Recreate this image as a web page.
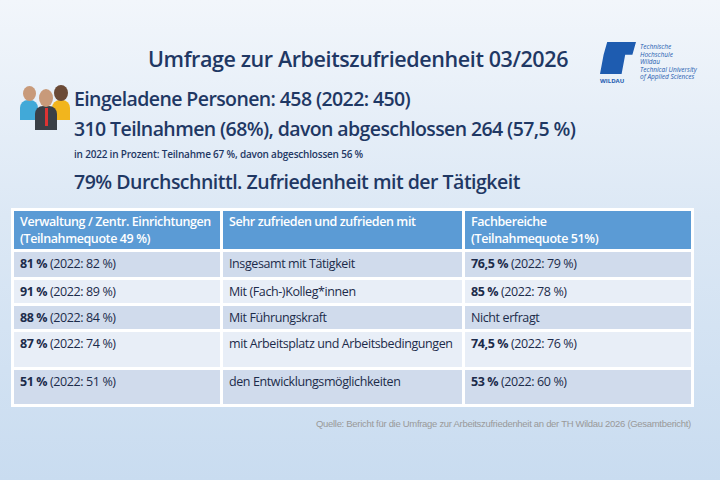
<!DOCTYPE html>
<html><head><meta charset="utf-8">
<script src="https://cdn.jsdelivr.net/npm/chart.js@4"></script>
<style>
body{margin:0;width:720px;height:480px;overflow:hidden;font-family:"Open Sans","Noto Sans",sans-serif;
 background:linear-gradient(#f2f6fb,#dce8f5 45%,#c9dcf0);color:#1f3864;position:relative}
.a{position:absolute;white-space:nowrap}
table{position:absolute;left:11px;top:208px;width:680px;border-collapse:collapse;font-size:12.5px;letter-spacing:-0.4px;table-layout:fixed}
td{border:3px solid #fff;padding:4px 6px 0;vertical-align:top;color:#1c2b4a;box-sizing:border-box;line-height:16px}
tr.h td{background:#5b9bd5;color:#fff;font-weight:600;line-height:17px;padding-top:2px}
tr.r0 td{background:#d0dbec} tr.r1 td{background:#e8eef7}
.src{font-family:"Liberation Sans",Arial;font-size:9.5px;color:#999;letter-spacing:-0.3px}
</style></head><body>
<div class="a" style="left:148px;top:44px;font-size:21.5px;font-weight:600;letter-spacing:-0.4px" id="title"></div>
<div class="a" style="left:74px;top:85px;font-size:19.5px;font-weight:600;letter-spacing:-0.6px" id="l1"></div>
<div class="a" style="left:74px;top:115px;font-size:19.5px;font-weight:600;letter-spacing:-0.6px" id="l2"></div>
<div class="a" style="left:74px;top:147px;font-size:10px;font-weight:600;letter-spacing:-0.2px" id="l3"></div>
<div class="a" style="left:74px;top:168px;font-size:19.5px;font-weight:600;letter-spacing:-0.5px" id="l4"></div>
<div class="a" style="left:20px;top:82px;width:50px;height:48px">
 <div class="a" style="left:0;top:18px;width:18px;height:20px;background:#41a9d8;border-radius:8px 8px 0 0"></div>
 <div class="a" style="left:3px;top:4px;width:13px;height:15px;background:#c89a7a;border-radius:50%"></div>
 <div class="a" style="left:32px;top:18px;width:18px;height:20px;background:#f2b51d;border-radius:8px 8px 0 0"></div>
 <div class="a" style="left:34px;top:3px;width:14px;height:16px;background:#6b4a36;border-radius:50%"></div>
 <div class="a" style="left:15px;top:24px;width:22px;height:24px;background:#3a3f46;border-radius:8px 8px 0 0"></div>
 <div class="a" style="left:25px;top:26px;width:3px;height:18px;background:#d33"></div>
 <div class="a" style="left:19px;top:7px;width:14px;height:18px;background:#c89a7a;border-radius:50%"></div>
</div>
<div class="a" style="left:600px;top:42px;width:36px;height:32px;background:#1e5cb0;clip-path:polygon(20% 0,100% 0,90% 40%,70% 40%,60% 100%,0 100%,10% 40%)"></div>
<div class="a" style="left:600px;top:77px;font-size:6px;font-weight:700;color:#1e5cb0">WILDAU</div>
<div class="a" style="left:640px;top:43px;font-size:6.5px;line-height:7.5px;color:#1e5cb0;font-style:italic">Technische<br>Hochschule<br>Wildau<br>Technical University<br>of Applied Sciences</div>
<table id="tbl"></table>
<div class="a src" style="right:29px;top:418px" id="src"></div>
<canvas id="c" width="1" height="1" style="position:absolute;left:0;top:0"></canvas>
<script>
const titleText = "Umfrage zur Arbeitszufriedenheit 03/2026";
const lines = ["Eingeladene Personen: 458 (2022: 450)",
 "310 Teilnahmen (68%), davon abgeschlossen 264 (57,5 %)",
 "in 2022 in Prozent: Teilnahme 67 %, davon  abgeschlossen 56 %",
 "79%  Durchschnittl. Zufriedenheit mit der Tätigkeit"];
const headers = ["Verwaltung / Zentr. Einrichtungen<br>(Teilnahmequote 49 %)", "Sehr zufrieden und zufrieden mit", "Fachbereiche<br>(Teilnahmequote 51%)"];
const categories = ["Insgesamt mit Tätigkeit", "Mit (Fach-)Kolleg*innen", "Mit Führungskraft", "mit Arbeitsplatz und Arbeitsbedingungen", "den Entwicklungsmöglichkeiten"];
const verwaltung = ["81 %", "91 %", "88 %", "87 %", "51 %"];
const verwaltung2022 = ["82 %", "89 %", "84 %", "74 %", "51 %"];
const fachbereiche = ["76,5 %", "85 %", null, "74,5 %", "53 %"];
const fachbereiche2022 = ["79 %", "78 %", null, "76 %", "60 %"];
const headerHeight = 41;
const rowHeights = [28, 26, 26, 38, 37];
const source = "Quelle: Bericht für die Umfrage zur Arbeitszufriedenheit an der TH Wildau 2026 (Gesamtbericht)";

document.getElementById("title").textContent = titleText;
lines.forEach((t, i) => document.getElementById("l" + (i + 1)).textContent = t);
document.getElementById("src").textContent = source;
let html = `<tr class="h" style="height:${headerHeight}px">` + headers.map((h, i) => `<td style="width:${[209, 242, 229][i]}px">${h}</td>`).join("") + "</tr>";
categories.forEach((c, i) => {
  const f = fachbereiche[i] ? `<b>${fachbereiche[i]}</b> (2022: ${fachbereiche2022[i]})` : "Nicht erfragt";
  html += `<tr class="r${i % 2}" style="height:${rowHeights[i]}px"><td><b>${verwaltung[i]}</b> (2022: ${verwaltung2022[i]})</td><td>${c}</td><td>${f}</td></tr>`;
});
document.getElementById("tbl").innerHTML = html;
</script>
</body></html>
